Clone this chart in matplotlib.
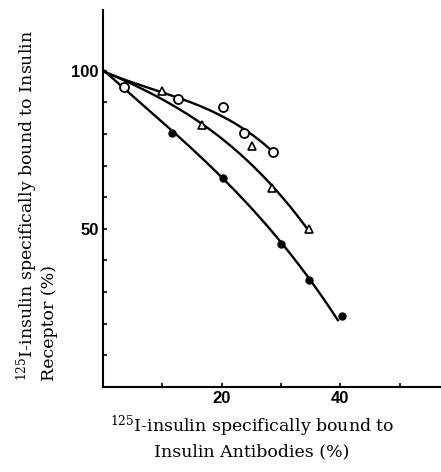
import numpy as np
import matplotlib
matplotlib.use('Agg')
import matplotlib.pyplot as plt

plt.rcParams['mathtext.fontset'] = 'dejavuserif'

# open circles
circ_x = [3.6, 12.6, 20.3, 23.7, 28.7]
circ_y = [94.9, 91.1, 88.5, 80.2, 74.4]
# open triangles
tri_x = [9.9, 16.7, 25.1, 28.5, 34.8]
tri_y = [93.5, 82.8, 76.1, 63.0, 49.8]
# filled circles
dot_x = [11.7, 20.2, 30.0, 34.8, 40.3]
dot_y = [80.3, 66.2, 45.3, 33.8, 22.4]

# hand drawn curves
circ_line_x = [0, 3.5, 9.9, 13.0, 16.4, 19.7, 23.7, 28.5]
circ_line_y = [100, 97.0, 93.2, 90.9, 89.2, 86.8, 80.4, 75.0]
tri_line_x = [0, 3.5, 9.0, 13.5, 16.7, 19.7, 24.2, 28.4, 32.7, 34.9]
tri_line_y = [100, 97.0, 91.5, 86.7, 83.4, 79.9, 72.0, 63.1, 53.7, 49.5]
dot_line_x = [0, 3.6, 11.7, 20.2, 24.8, 30.1, 34.9, 39.7]
dot_line_y = [100, 94.9, 80.3, 66.2, 57.3, 45.3, 33.8, 20.9]

fig = plt.figure(figsize=(4.41, 4.72), dpi=100)
ax = fig.add_axes([0.2336, 0.18, 0.764, 0.799])

# smooth line through the read points
for lx, ly in [(circ_line_x, circ_line_y), (tri_line_x, tri_line_y), (dot_line_x, dot_line_y)]:
    c = np.polyfit(lx, ly, 3)
    xx = np.linspace(lx[0], lx[-1], 200)
    ax.plot(xx, np.polyval(c, xx), color='black', lw=1.7, solid_capstyle='butt')

ax.plot(circ_x, circ_y, 'o', ms=6.5, mfc='white', mec='black', mew=1.3)
ax.plot(tri_x, tri_y, '^', ms=5.5, mfc='white', mec='black', mew=1.2)
ax.plot(dot_x, dot_y, 'o', ms=5, mfc='black', mec='black')

ax.set_xlim(0, 56.8)
ax.set_ylim(0, 119.2)
ax.spines['top'].set_visible(False)
ax.spines['right'].set_visible(False)
ax.spines['left'].set_linewidth(1.5)
ax.spines['bottom'].set_linewidth(1.5)

ax.set_xticks([20, 40])
ax.set_xticks([10, 30, 50], minor=True)
ax.set_yticks([50, 100])
ax.set_yticks([10, 20, 30, 40, 60, 70, 80, 90], minor=True)
ax.tick_params(which='both', direction='in', length=3, width=1.2)
ax.tick_params(which='major', pad=3)
for lab in ax.get_xticklabels() + ax.get_yticklabels():
    lab.set_fontfamily('Liberation Sans')
    lab.set_fontweight('bold')
    lab.set_fontsize(12)

fig.text(0.571, 0.123, '$^{125}$I-insulin specifically bound to\nInsulin Antibodies (%)',
         family='DejaVu Serif', fontsize=12.5, linespacing=1.3,
         ha='center', va='top', multialignment='center')
fig.text(0.083, 0.5636, '$^{125}$I-insulin specifically bound to Insulin\nReceptor (%)',
         family='DejaVu Serif', fontsize=12.5, linespacing=1.1, rotation=90,
         ha='center', va='center', multialignment='left')

fig.savefig('out.png', dpi=100)
